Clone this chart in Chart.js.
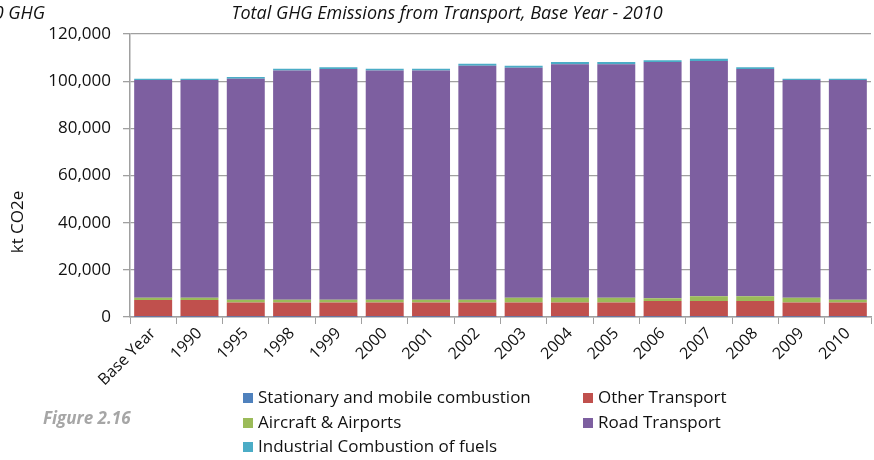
<!DOCTYPE html>
<html>
<head>
<meta charset="utf-8">
<script src="https://cdn.jsdelivr.net/npm/chart.js@4.4.1/dist/chart.umd.min.js"></script>
<style>
  html, body { margin: 0; padding: 0; background: #fff; overflow: hidden; }
  #wrap { position: relative; width: 874px; height: 460px; font-family: "Open Sans", sans-serif; }
  #chart { position: absolute; left: 0; top: 0; }
  .title { position: absolute; top: 0px; font-style: italic; font-size: 18px; color: #111; white-space: nowrap; }
  #fig { position: absolute; left: 43px; top: 406px; font-size: 17px; font-weight: bold; font-style: italic; color: #a6a6a6; }
  #legend { position: absolute; left: 243px; top: 385px; width: 620px; }
  .lg { position: absolute; font-size: 17px; color: #111; white-space: nowrap; line-height: 24px; }
  .lg span.sw { display: inline-block; width: 10px; height: 10px; margin-right: 5px; vertical-align: 0px; }
</style>
</head>
<body>
<div id="wrap">
  <canvas id="chart" width="874" height="460"></canvas>
  <div class="title" style="right:829px">10 GHG</div>
  <div class="title" id="title" style="left:447px; transform: translateX(-50%)">Total GHG Emissions from Transport, Base Year - 2010</div>
  <div id="fig">Figure 2.16</div>
  <div id="legend"></div>
</div>
<script>
  // data (kt CO2e)
  const YEARS = ['Base Year','1990','1995','1998','1999','2000','2001','2002','2003','2004','2005','2006','2007','2008','2009','2010'];
  const stationary = [50,50,50,50,50,50,50,50,50,50,50,50,50,50,50,50];
  const otherTransport = [7200,7200,6100,6100,6100,6100,6100,6100,6100,6100,6100,6700,6700,6700,6100,6100];
  const aircraft = [900,900,1200,1200,1200,1200,1200,1200,2000,2000,2000,1200,2100,2100,2000,1200];
  const road = [92300,92300,93700,97200,97800,97200,97200,99200,97500,99000,99000,100200,99700,96300,92300,93100];
  const industrial = [600,600,700,700,800,700,700,800,900,1000,1000,700,1000,800,600,600];

  const Y_TICKS = [0,20000,40000,60000,80000,100000,120000];
  const Y_LABEL = 'kt CO2e';

  const SERIES = [
    { label: 'Stationary and mobile combustion', data: stationary, color: '#4f81bd' },
    { label: 'Other Transport', data: otherTransport, color: '#c0504d' },
    { label: 'Aircraft & Airports', data: aircraft, color: '#9bbb59' },
    { label: 'Road Transport', data: road, color: '#7d5fa0' },
    { label: 'Industrial Combustion of fuels', data: industrial, color: '#4bacc6' }
  ];

  const gridGray = '#a0a0a0';
  const tickFont = { family: '"Open Sans", sans-serif', size: 17 };

  // y axis label sits lower than the plot centre in the original, so draw it by hand
  const yLabelPlugin = {
    id: 'yLabel',
    afterDraw(c){
      const ctx = c.ctx;
      ctx.save();
      ctx.translate(18, 222);
      ctx.rotate(-Math.PI / 2);
      ctx.font = '17px "Open Sans", sans-serif';
      ctx.fillStyle = '#111';
      ctx.textAlign = 'center';
      ctx.textBaseline = 'middle';
      ctx.fillText(Y_LABEL, 0, 0);
      ctx.restore();
    }
  };

  const chart = new Chart(document.getElementById('chart').getContext('2d'), {
    type: 'bar',
    data: {
      labels: YEARS,
      datasets: SERIES.map(s => ({
        label: s.label,
        data: s.data,
        backgroundColor: s.color,
        borderWidth: 0,
        barPercentage: 0.82,
        categoryPercentage: 1.0
      }))
    },
    options: {
      responsive: false,
      animation: false,
      layout: { padding: { top: 34, right: 3, left: 0, bottom: 0 } },
      plugins: { legend: { display: false }, tooltip: { enabled: false } },
      scales: {
        x: {
          stacked: true,
          grid: { drawOnChartArea: false, drawTicks: true, tickLength: 7, color: gridGray },
          border: { color: gridGray, width: 1.5 },
          ticks: { color: '#111', font: { family: tickFont.family, size: 16 }, minRotation: 45, maxRotation: 45, autoSkip: false, padding: 0 },
          afterFit: s => { s.height = 143; }
        },
        y: {
          stacked: true,
          min: 0, max: 120000,
          afterBuildTicks: s => { s.ticks = Y_TICKS.map(v => ({ value: v })); },
          grid: { color: gridGray, lineWidth: 1.3, tickLength: 7 },
          border: { color: gridGray, width: 1.5 },
          ticks: {
            color: '#111', font: tickFont, padding: 12,
            callback: v => Number(v).toLocaleString('en-US')
          },
          afterFit: s => { s.width = 130; }
        }
      }
    },
    plugins: [yLabelPlugin]
  });

  // legend in two columns like the original
  const legend = document.getElementById('legend');
  const cols = [0, 340];
  chart.data.datasets.forEach((ds, i) => {
    const el = document.createElement('div');
    el.className = 'lg';
    el.style.left = cols[i % 2] + 'px';
    el.style.top = (Math.floor(i / 2) * 24.5) + 'px';
    el.innerHTML = `<span class="sw" style="background:${ds.backgroundColor}"></span>${ds.label}`;
    legend.appendChild(el);
  });
</script>
</body>
</html>
